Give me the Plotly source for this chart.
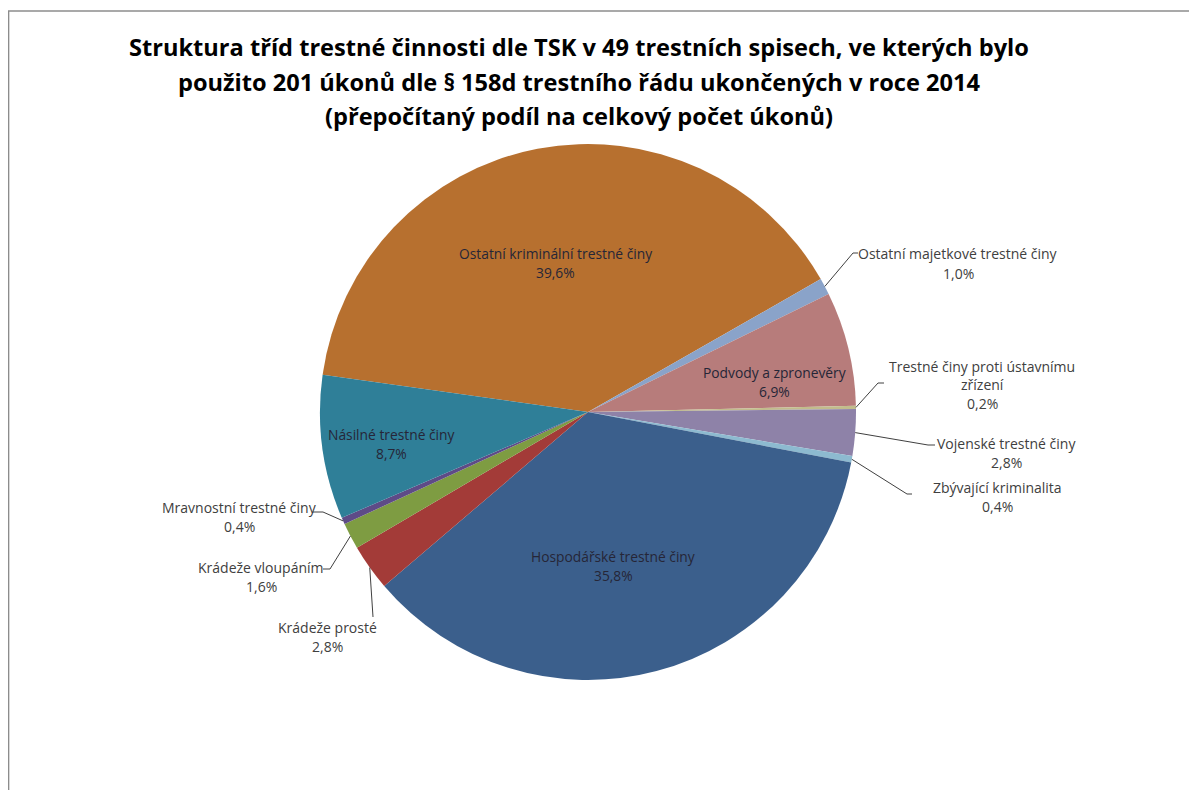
import math
import plotly.graph_objects as go

# ---------------- data ----------------
categories = [
    "Ostatní kriminální trestné činy",
    "Ostatní majetkové trestné činy",
    "Podvody a zpronevěry",
    "Trestné činy proti ústavnímu zřízení",
    "Vojenské trestné činy",
    "Zbývající kriminalita",
    "Hospodářské trestné činy",
    "Krádeže prosté",
    "Krádeže vloupáním",
    "Mravnostní trestné činy",
    "Násilné trestné činy",
]
shares = [39.6, 1.0, 6.9, 0.2, 2.8, 0.4, 35.8, 2.8, 1.6, 0.4, 8.7]
colors = ["#B7702F", "#8AA3C9", "#B77C7B", "#C2BC8C", "#8E82A8", "#8DBAD0",
          "#3B5F8C", "#A33B38", "#7E9C42", "#5E4B87", "#2F7F98"]
title_lines = [
    "Struktura tříd trestné činnosti dle TSK v 49 trestních spisech, ve kterých bylo",
    "použito 201 úkonů dle § 158d trestního řádu ukončených v roce 2014",
    "(přepočítaný podíl na celkový počet úkonů)",
]

# ---------------- layout helpers ----------------
OFF = 8            # browser body margin
W, H = 1181, 782   # figure size
CX, CY, R = 588, 412, 268   # pie centre/radius in page pixels
ROT = -82          # angle of first slice (clockwise from 12 o'clock)

def paper(x, y):
    return (x - OFF) / W, 1 - (y - OFF) / H

def fmt(v):
    return f"{v:.1f}".replace(".", ",") + "%"

# label layout: category -> (kind, centre x, first line y, line gap, label lines, leader pts)
label_layout = {
    "Ostatní kriminální trestné činy": ("in", 555, 253, 19, None, None),
    "Podvody a zpronevěry": ("in", 774, 372, 19, None, None),
    "Násilné trestné činy": ("in", 392, 434, 19, None, None),
    "Hospodářské trestné činy": ("in", 613, 556, 19, None, None),
    "Ostatní majetkové trestné činy": ("out", 958, 253, 20, None, [(853, 253), (858, 253)]),
    "Trestné činy proti ústavnímu zřízení": ("out", 982, 366, 18.5,
                                              ["Trestné činy proti ústavnímu", "zřízení"],
                                              [(878, 383), (884, 383)]),
    "Vojenské trestné činy": ("out", 1006, 443, 19, None, [(928, 445), (935, 445)]),
    "Zbývající kriminalita": ("out", 997, 487, 19, None, [(907, 494), (912, 494)]),
    "Mravnostní trestné činy": ("out", 240, 507, 19, None, [(323, 512), (313, 512)]),
    "Krádeže vloupáním": ("out", 261, 567, 19, None, [(330, 569), (323, 569)]),
    "Krádeže prosté": ("out", 327, 627, 19, None, [(373, 617)]),
}

fig = go.Figure()
dx0, dy0 = paper(CX - R, CY + R)
dx1, dy1 = paper(CX + R, CY - R)
fig.add_trace(go.Pie(
    labels=categories, values=shares, sort=False, direction="clockwise",
    rotation=ROT, marker=dict(colors=colors, line=dict(width=0)),
    textinfo="none", hoverinfo="label+percent", showlegend=False,
    domain=dict(x=[dx0, dx1], y=[dy0, dy1]),
))

annotations = []
shapes = []
total = sum(shares)
cum = 0.0
for cat, v in zip(categories, shares):
    mid = ROT + 360 * (cum + v / 2) / total
    cum += v
    kind, lx, ly, gap, lines, leader = label_layout[cat]
    lines = (lines or [cat]) + [fmt(v)]
    if kind == "in":
        fcol, fsize = "#262637", 13.8
    else:
        fcol, fsize = "#404040", 14
    for i, t in enumerate(lines):
        px, py = paper(lx, ly + i * gap)
        annotations.append(dict(x=px, y=py, xref="paper", yref="paper", text=t,
                                showarrow=False, xanchor="center", yanchor="middle",
                                font=dict(family="Open Sans", size=fsize, color=fcol)))
    if leader:
        a = math.radians(mid)
        ex, ey = CX + R * math.sin(a), CY - R * math.cos(a)
        pts = [(ex, ey)] + leader
        path = ""
        for j, (qx, qy) in enumerate(pts):
            ppx, ppy = paper(qx, qy)
            path += ("M" if j == 0 else " L") + f"{ppx},{ppy}"
        shapes.append(dict(type="path", path=path, xref="paper", yref="paper",
                           line=dict(color="#404040", width=1)))

title_y = [47, 82, 116]
for t, ty in zip(title_lines, title_y):
    px, py = paper(579, ty)
    annotations.append(dict(x=px, y=py, xref="paper", yref="paper", text="<b>" + t + "</b>",
                            showarrow=False, xanchor="center", yanchor="middle",
                            font=dict(family="Open Sans", size=23.6, color="#000000")))

# chart frame (top and left edges visible)
fx0, fy0 = paper(8, 11)
shapes.append(dict(type="line", xref="paper", yref="paper", x0=fx0, y0=fy0, x1=1.0, y1=fy0,
                   line=dict(color="#8c8c8c", width=1.5)))
shapes.append(dict(type="line", xref="paper", yref="paper", x0=fx0 + 0.0005, y0=fy0, x1=fx0 + 0.0005, y1=0,
                   line=dict(color="#8c8c8c", width=1.5)))

fig.update_layout(
    width=W, height=H, margin=dict(l=0, r=0, t=0, b=0),
    paper_bgcolor="white", plot_bgcolor="white",
    annotations=annotations, shapes=shapes,
)
fig.write_html("out.html")
